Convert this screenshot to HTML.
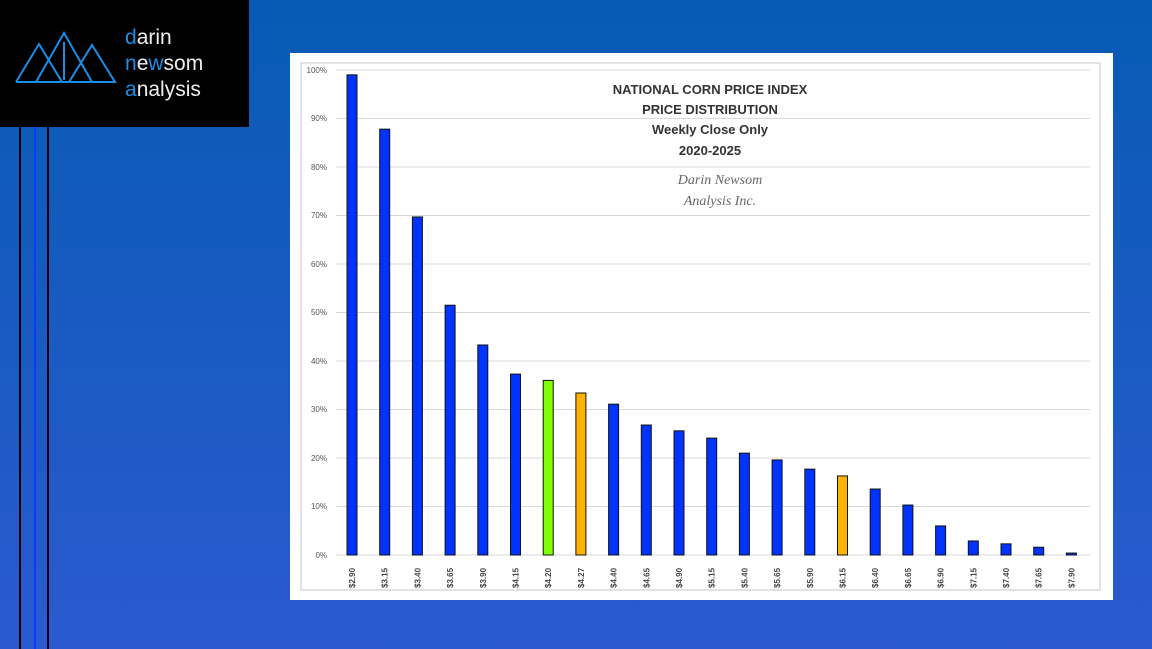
<!DOCTYPE html>
<html><head><style>
body{margin:0;width:1152px;height:649px;overflow:hidden;background:linear-gradient(#075bb4,#2b5ad0);font-family:"Liberation Sans",sans-serif;}
</style></head><body>
<svg width="1152" height="649" style="position:absolute;left:0;top:0">
<rect x="0" y="0" width="249" height="127" fill="#000"/>
<rect x="19" y="127" width="2" height="522" fill="#000"/>
<rect x="34" y="127" width="2" height="522" fill="#0a3cff"/>
<rect x="47" y="127" width="2" height="522" fill="#000"/>
<g fill="none" stroke="#1a8ee6" stroke-width="2">
<polyline points="16,82 39,44 62,82 16,82"/><polyline points="36,82 64,33 92,82 36,82"/><polyline points="69,82 92,45 115,82 69,82"/>
<line x1="64" y1="42" x2="64" y2="80"/>
</g>
<text x="125" y="44" font-size="21" fill="#eee"><tspan fill="#1a8ee6">d</tspan>arin</text>
<text x="125" y="70" font-size="21" fill="#eee"><tspan fill="#1a8ee6">n</tspan>e<tspan fill="#1a8ee6">w</tspan>som</text>
<text x="125" y="96" font-size="21" fill="#eee"><tspan fill="#1a8ee6">a</tspan>nalysis</text>
<rect x="290" y="53" width="823" height="547" fill="#fff"/>
<rect x="301" y="63" width="799" height="527" fill="none" stroke="#d9d9d9" stroke-width="1.5"/>
<g stroke="#d9d9d9" stroke-width="1">
<line x1="336" x2="1090" y1="70" y2="70"/><line x1="336" x2="1090" y1="118.5" y2="118.5"/><line x1="336" x2="1090" y1="167" y2="167"/><line x1="336" x2="1090" y1="215.5" y2="215.5"/><line x1="336" x2="1090" y1="264" y2="264"/><line x1="336" x2="1090" y1="312.5" y2="312.5"/><line x1="336" x2="1090" y1="361" y2="361"/><line x1="336" x2="1090" y1="409.5" y2="409.5"/><line x1="336" x2="1090" y1="458" y2="458"/><line x1="336" x2="1090" y1="506.5" y2="506.5"/><line x1="336" x2="1090" y1="555" y2="555"/>
</g>
<g font-size="8" fill="#555" text-anchor="end">
<text x="327" y="73">100%</text><text x="327" y="121">90%</text><text x="327" y="170">80%</text><text x="327" y="218">70%</text><text x="327" y="267">60%</text><text x="327" y="315">50%</text><text x="327" y="364">40%</text><text x="327" y="412">30%</text><text x="327" y="461">20%</text><text x="327" y="509">10%</text><text x="327" y="558">0%</text>
</g>
<g text-anchor="middle" font-weight="bold" fill="#333" font-size="13">
<text x="710" y="94">NATIONAL CORN PRICE INDEX</text>
<text x="710" y="114">PRICE DISTRIBUTION</text>
<text x="710" y="134">Weekly Close Only</text>
<text x="710" y="155">2020-2025</text>
</g>
<text x="720" y="184" text-anchor="middle" font-family="Liberation Serif,serif" font-style="italic" font-size="14" fill="#666">Darin Newsom</text>
<text x="720" y="205" text-anchor="middle" font-family="Liberation Serif,serif" font-style="italic" font-size="14" fill="#666">Analysis Inc.</text>
<g id="bars" stroke="#111" stroke-width="1"></g>
<g id="lbl" font-size="8" fill="#444" font-weight="bold"></g>
</svg>
<script>
var v=[99,87.8,69.7,51.5,43.3,37.3,36,33.4,31.1,26.8,25.6,24.1,21,19.6,17.7,16.3,13.6,10.3,6,2.9,2.3,1.6,0.4];
var l=["2.90","3.15","3.40","3.65","3.90","4.15","4.20","4.27","4.40","4.65","4.90","5.15","5.40","5.65","5.90","6.15","6.40","6.65","6.90","7.15","7.40","7.65","7.90"];
var ns="http://www.w3.org/2000/svg",b=document.getElementById("bars"),g=document.getElementById("lbl");
for(var i=0;i<23;i++){var cx=352+i*32.7,y=555-v[i]*4.85;
var r=document.createElementNS(ns,"rect");r.setAttribute("x",cx-5);r.setAttribute("y",y);r.setAttribute("width",10);r.setAttribute("height",555-y);
r.setAttribute("fill",i==6?"#7fff00":(i==7||i==15)?"#ffb300":"#0033ff");b.appendChild(r);
var t=document.createElementNS(ns,"text");t.setAttribute("transform","translate("+(cx+3)+",588) rotate(-90)");t.textContent="$"+l[i];g.appendChild(t);}
</script>
</body></html>
